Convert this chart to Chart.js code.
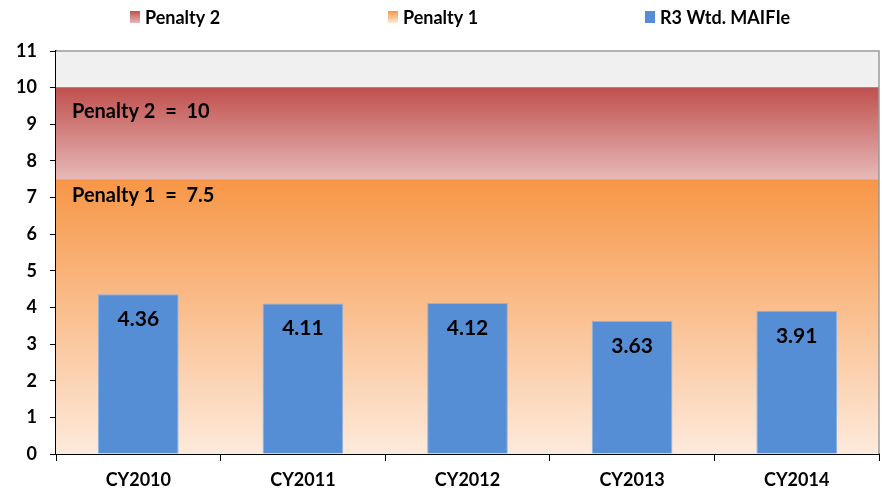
<!DOCTYPE html>
<html>
<head>
<meta charset="utf-8">
<script src="https://cdn.jsdelivr.net/npm/chart.js@4.4.1/dist/chart.umd.min.js"></script>
<style>
  html, body { margin: 0; padding: 0; background: #fff; }
  #wrap { width: 882px; height: 493px; position: relative; }
</style>
</head>
<body>
<div id="wrap"><canvas id="chart"></canvas></div>
<script>
// ---- data ----
const years = ['CY2010', 'CY2011', 'CY2012', 'CY2013', 'CY2014'];
const maifie = [4.36, 4.11, 4.12, 3.63, 3.91];
const penalty1Level = 7.5;
const penalty2Level = 10;
const yTicks = [0, 1, 2, 3, 4, 5, 6, 7, 8, 9, 10, 11];

const FONT = 'Lato, "Open Sans", sans-serif';

// vertical gradient between two values on the y scale
function bandGradient(ctx, from, to, topColor, bottomColor) {
  const chart = ctx.chart;
  if (!chart.chartArea) return topColor;
  const y = chart.scales.y;
  const g = chart.ctx.createLinearGradient(0, y.getPixelForValue(to), 0, y.getPixelForValue(from));
  g.addColorStop(0, topColor);
  g.addColorStop(1, bottomColor);
  return g;
}

// plot area fill + gray top/right border
const plotArea = {
  id: 'plotArea',
  beforeDatasetsDraw(chart) {
    const { ctx, chartArea: a } = chart;
    ctx.save();
    ctx.fillStyle = '#f0f0f0';
    ctx.fillRect(a.left, a.top, a.right - a.left, a.bottom - a.top);
    ctx.restore();
  },
  afterDatasetsDraw(chart) {
    const { ctx, chartArea: a } = chart;
    ctx.save();
    ctx.strokeStyle = '#9a9a9a';
    ctx.lineWidth = 1.5;
    ctx.beginPath();
    ctx.moveTo(a.left, a.top);
    ctx.lineTo(a.right, a.top);
    ctx.lineTo(a.right, a.bottom);
    ctx.stroke();
    ctx.restore();
  },
};

// value labels inside bars + band captions
const labels = {
  id: 'labels',
  afterDatasetsDraw(chart) {
    const { ctx } = chart;
    const y = chart.scales.y;
    ctx.save();
    ctx.fillStyle = '#000';
    ctx.font = 'bold 21px ' + FONT;
    ctx.textAlign = 'center';
    ctx.textBaseline = 'middle';
    chart.getDatasetMeta(0).data.forEach((bar, i) => {
      ctx.fillText(maifie[i].toFixed(2), bar.x, bar.y + 25);
    });
    ctx.font = 'bold 20px ' + FONT;
    ctx.textAlign = 'left';
    ctx.fillText('Penalty 2  =  ' + penalty2Level, 72, y.getPixelForValue(9.35));
    ctx.fillText('Penalty 1  =  ' + penalty1Level, 72, y.getPixelForValue(7.05));
    ctx.restore();
  },
};

// legend spread evenly across the top, like the original
const spreadLegend = {
  id: 'spreadLegend',
  afterDraw(chart) {
    const { ctx } = chart;
    const order = [2, 1, 0];
    const starts = [130, 388, 645];
    ctx.save();
    ctx.font = 'bold 18px ' + FONT;
    ctx.textBaseline = 'middle';
    ctx.fillStyle = '#000';
    order.forEach((di, k) => {
      const ds = chart.data.datasets[di];
      const x = starts[k], yc = 17;
      let fill;
      if (ds.legendColors) {
        fill = ctx.createLinearGradient(0, yc - 6, 0, yc + 6);
        fill.addColorStop(0, ds.legendColors[0]);
        fill.addColorStop(1, ds.legendColors[1]);
      } else {
        fill = ds.backgroundColor;
      }
      ctx.fillStyle = fill;
      ctx.fillRect(x, yc - 6, 10, 12);
      ctx.fillStyle = '#000';
      ctx.fillText(ds.label, x + 15, yc + 1);
    });
    ctx.restore();
  },
};

new Chart(document.getElementById('chart'), {
  type: 'bar',
  data: {
    labels: years,
    datasets: [
      {
        label: 'R3 Wtd. MAIFIe',
        data: maifie,
        backgroundColor: '#558ed5',
        borderColor: '#8db3e2',
        borderWidth: 1,
        grouped: false,
        categoryPercentage: 1,
        barPercentage: 0.49,
        order: 0,
      },
      {
        label: 'Penalty 1',
        data: [[0, penalty1Level]],
        xAxisID: 'xb',
        grouped: false,
        categoryPercentage: 1,
        barPercentage: 1,
        borderWidth: 0,
        legendColors: ['#f79646', '#fde9d9'],
        backgroundColor: ctx => bandGradient(ctx, 0, penalty1Level, '#f79646', '#fdeadc'),
        order: 2,
      },
      {
        label: 'Penalty 2',
        data: [[penalty1Level, penalty2Level]],
        xAxisID: 'xb',
        grouped: false,
        categoryPercentage: 1,
        barPercentage: 1,
        borderWidth: 0,
        legendColors: ['#c0504d', '#e6b9b8'],
        backgroundColor: ctx => bandGradient(ctx, penalty1Level, penalty2Level, '#c0504d', '#e6b9b8'),
        order: 1,
      },
    ],
  },
  options: {
    responsive: true,
    maintainAspectRatio: false,
    animation: false,
    layout: { padding: { top: 51, right: 3, left: 0, bottom: 0 } },
    plugins: {
      legend: { display: false },
      tooltip: { enabled: false },
    },
    scales: {
      x: {
        grid: { display: true, drawOnChartArea: false, offset: true, tickLength: 7, color: '#000', lineWidth: 1 },
        border: { color: '#000', width: 2 },
        ticks: { color: '#000', font: { family: FONT, size: 18, weight: 'bold' }, padding: 8 },
        afterFit: s => { s.height = 39; },
      },
      xb: {
        type: 'category',
        labels: ['band'],
        display: false,
        offset: true,
      },
      y: {
        min: 0,
        max: 11,
        afterBuildTicks: s => { s.ticks = yTicks.map(v => ({ value: v })); },
        grid: { display: true, drawOnChartArea: false, tickLength: 6, color: '#000', lineWidth: 1 },
        border: { color: '#000', width: 2 },
        ticks: { color: '#000', font: { family: FONT, size: 18, weight: 'bold' }, padding: 13 },
        afterFit: s => { s.width = 56; },
      },
    },
  },
  plugins: [plotArea, labels, spreadLegend],
});
</script>
</body>
</html>
